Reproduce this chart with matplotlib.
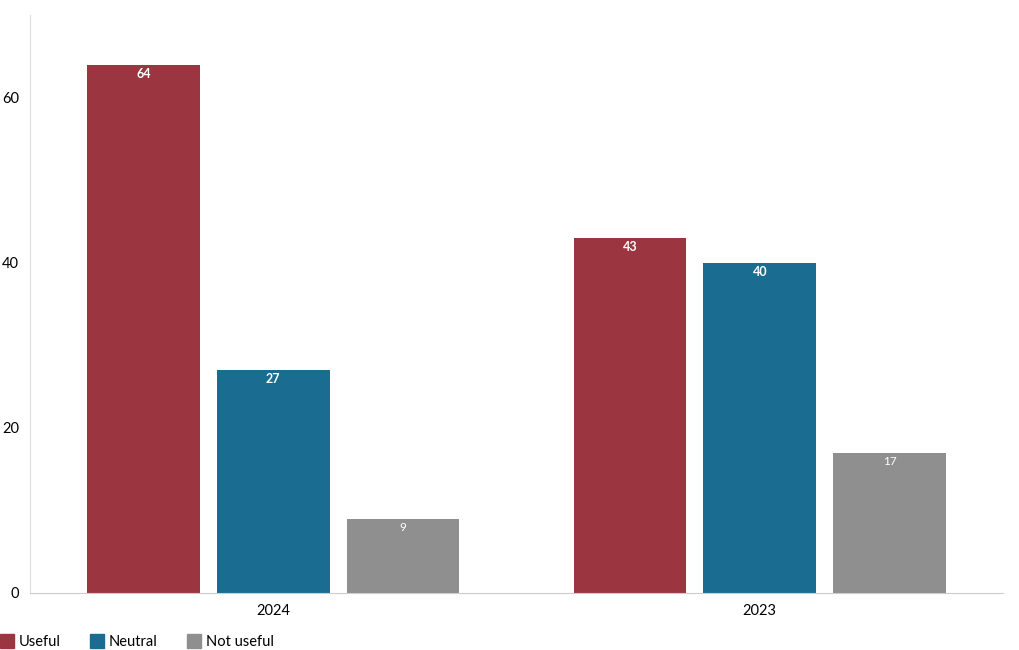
import numpy as np
import matplotlib
matplotlib.use('Agg')
from matplotlib import pyplot as plt
from matplotlib.patches import Patch

plt.rcParams['font.family'] = ['Lato', 'DejaVu Sans']

#data
years = ['2024', '2023']
useful = [64, 43]
neutral = [27, 40]
not_useful = [9, 17]
series = ['Useful', 'Neutral', 'Not useful']
colors = ['#9B3640', '#1B6C91', '#8F8F8F']

fig = plt.figure(figsize=(10.2, 6.5), dpi=100)
ax = fig.add_axes([30/1020, 1-593/650, 973/1020, 578/650])

x = np.arange(len(years))
width = 0.232
step = 0.2667
vals = [useful, neutral, not_useful]

for i, v in enumerate(vals):
	bars = ax.bar(x + (i-1)*step, v, width=width, color=colors[i], zorder=2)
	for b, val in zip(bars, v):
		ax.text(b.get_x()+b.get_width()/2, val-1.1, str(val), ha='center', va='center',
				color='white', fontsize=9 if i < 2 else 8.5, fontweight='bold' if i < 2 else 'normal')

ax.set_xlim(-0.5, 1.5)
ax.set_ylim(0, 70)
ax.set_xticks(x)
ax.set_xticklabels(years, fontsize=10.5)
ax.set_yticks([0, 20, 40, 60])
ax.tick_params(axis='y', length=0, pad=8, labelsize=10.5)
ax.tick_params(axis='x', length=0, pad=8)

for s in ['top', 'right']:
	ax.spines[s].set_visible(False)
ax.spines['left'].set_color('#dddddd')
ax.spines['bottom'].set_color('#cccccc')

handles = [Patch(color=c, label=l) for c, l in zip(colors, series)]
fig.legend(handles=handles, loc='lower left', bbox_to_anchor=(-0.013, -0.018), ncol=3, frameon=False,
		fontsize=10.5, handlelength=1.0, handleheight=1.1, handletextpad=0.3, columnspacing=2.0)

plt.savefig('out.png', dpi=100)
